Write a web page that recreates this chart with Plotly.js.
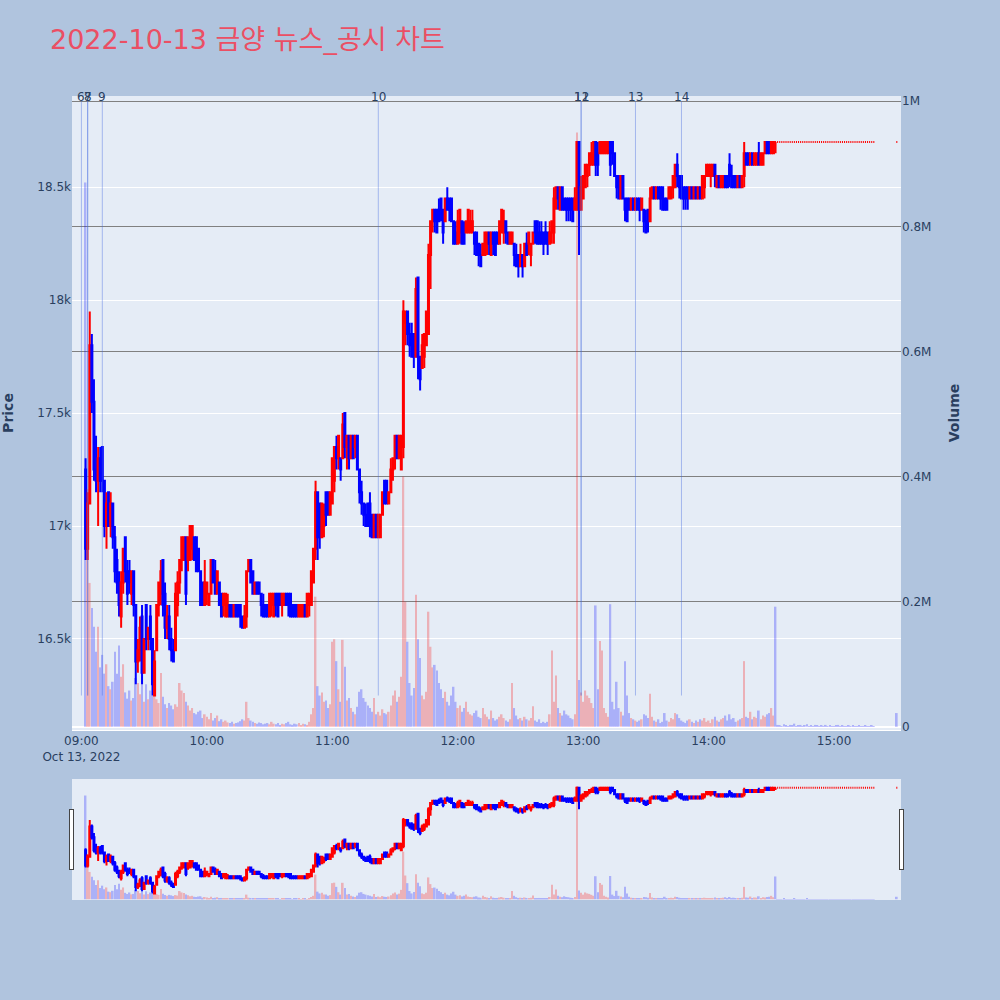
<!DOCTYPE html>
<html><head><meta charset="utf-8">
<script src="https://cdn.plot.ly/plotly-3.0.1.min.js"></script>
<style>body{margin:0;background:#B0C4DE}</style>
</head><body><div id="chart" style="width:1000px;height:1000px"></div>
<script>
const chartTitle = '2022-10-13 금양 뉴스_공시 차트';
const tradeDate = '2022-10-13';
const firstMinute = '09:02';
const closingAuctionTime = '15:30';

const openPrice = [
17250,16900,17100,17800,17550,17250,17200,17300,17350,17200,
17000,17150,17000,17100,16950,16850,16750,16600,16750,16950,
16800,16800,16700,16800,16650,16400,16450,16600,16350,16650,
16500,16600,16500,16250,16450,16650,16700,16850,16700,16550,
16600,16500,16450,16450,16650,16750,16850,16850,16950,16850,
16850,16900,16950,16950,16900,16800,16750,16650,16700,16650,
16700,16850,16800,16700,16750,16700,16650,16600,16600,16650,
16650,16600,16650,16650,16650,16600,16550,16600,16800,16850,
16800,16700,16750,16750,16700,16650,16650,16650,16600,16650,
16600,16700,16700,16700,16650,16650,16700,16700,16700,16650,
16650,16650,16600,16600,16600,16650,16600,16650,16650,16750,
16900,17150,17100,16950,17000,17150,17150,17050,17100,17200,
17350,17300,17300,17300,17500,17350,17400,17300,17400,17350,
17400,17250,17150,17100,17050,17100,17100,17050,16950,17050,
16950,16950,17050,17200,17200,17100,17150,17250,17300,17400,
17300,17250,17350,17900,17950,17850,17850,17850,17750,18100,
17750,17700,17750,17800,17850,18200,18350,18400,18400,18400,
18450,18400,18350,18450,18450,18450,18350,18300,18250,18300,
18350,18300,18300,18300,18300,18300,18300,18300,18250,18200,
18200,18200,18250,18300,18200,18300,18300,18300,18250,18300,
18300,18350,18300,18250,18250,18250,18200,18200,18150,18200,
18150,18250,18250,18200,18250,18350,18350,18300,18300,18300,
18300,18300,18250,18300,18300,18450,18500,18400,18500,18450,
18450,18450,18450,18450,18400,18400,18700,18400,18450,18500,
18550,18600,18600,18600,18700,18650,18650,18650,18650,18650,
18650,18700,18700,18650,18550,18550,18450,18550,18450,18450,
18450,18400,18450,18400,18450,18450,18400,18400,18350,18400,
18350,18450,18500,18450,18500,18500,18500,18450,18450,18450,
18450,18500,18500,18600,18550,18550,18500,18500,18500,18450,
18500,18450,18500,18450,18500,18450,18500,18550,18550,18550,
18550,18600,18500,18550,18500,18500,18550,18550,18600,18550,
18550,18550,18500,18550,18500,18550,18650,18650,18600,18650,
18600,18600,18650,18600,18600,18650,18700,18700,18650,18650,18700,
18700,18700,18700,18700,18700,18700,18700,18700,18700,18700,
18700,18700,18700,18700,18700,18700,18700,18700,18700,18700,
18700,18700,18700,18700,18700,18700,18700,18700,18700,18700,
18700,18700,18700,18700,18700,18700,18700,18700,18700,18700,
18700,18700,18700,18700,18700,18700,18700,
18700];

const highPrice = [
17300,17150,17950,17850,17650,17400,17350,17350,17350,17200,
17150,17150,17150,17100,17000,16900,16800,16800,16900,16950,
16850,16850,16800,16800,16650,16500,16600,16650,16500,16650,
16550,16650,16500,16450,16650,16750,16850,16850,16750,16650,
16650,16550,16500,16750,16800,16850,16950,16950,16950,16950,
17000,17000,16950,16950,16900,16800,16750,16850,16750,16700,
16850,16850,16850,16800,16750,16700,16700,16700,16700,16650,
16650,16650,16650,16650,16650,16600,16650,16800,16850,16850,
16800,16750,16750,16750,16700,16700,16650,16650,16700,16700,
16700,16700,16700,16700,16700,16700,16700,16700,16700,16650,
16650,16650,16650,16650,16650,16650,16700,16700,16800,16900,
17200,17150,17100,17100,17100,17150,17150,17150,17300,17350,
17400,17400,17300,17500,17500,17400,17400,17400,17400,17400,
17400,17250,17200,17100,17100,17100,17150,17050,17050,17050,
17050,17050,17150,17200,17200,17150,17300,17300,17400,17400,
17400,17400,18000,17950,17950,17900,17900,17850,18100,18100,
17750,17850,17850,17950,18250,18350,18400,18400,18400,18450,
18450,18400,18450,18500,18450,18450,18350,18350,18400,18400,
18350,18350,18350,18400,18400,18400,18300,18300,18250,18250,
18250,18300,18300,18300,18300,18300,18300,18300,18350,18400,
18400,18350,18300,18300,18300,18250,18250,18200,18250,18200,
18250,18300,18300,18250,18300,18350,18350,18350,18350,18300,
18350,18300,18350,18350,18500,18500,18500,18500,18500,18450,
18450,18450,18450,18450,18500,18700,18700,18550,18550,18600,
18600,18650,18700,18700,18700,18700,18700,18700,18700,18700,
18700,18700,18700,18650,18550,18550,18550,18550,18450,18450,
18450,18450,18450,18450,18450,18450,18450,18400,18400,18400,
18500,18500,18500,18500,18500,18500,18500,18450,18450,18500,
18500,18550,18600,18650,18550,18550,18500,18500,18500,18500,
18500,18500,18500,18500,18500,18550,18550,18600,18600,18600,
18600,18600,18550,18550,18550,18550,18550,18550,18650,18600,
18550,18550,18550,18550,18550,18700,18650,18650,18650,18650,
18650,18650,18700,18650,18650,18700,18700,18700,18700,18700,18700,
18700,18700,18700,18700,18700,18700,18700,18700,18700,18700,
18700,18700,18700,18700,18700,18700,18700,18700,18700,18700,
18700,18700,18700,18700,18700,18700,18700,18700,18700,18700,
18700,18700,18700,18700,18700,18700,18700,18700,18700,18700,
18700,18700,18700,18700,18700,18700,18700,
18700];

const lowPrice = [
16850,16850,17100,17500,17200,17150,17000,17150,17150,16950,
16900,17000,16950,16900,16750,16700,16600,16550,16700,16750,
16650,16700,16650,16600,16300,16350,16400,16300,16350,16450,
16450,16450,16250,16250,16450,16600,16650,16600,16500,16500,
16450,16400,16400,16450,16600,16700,16800,16850,16650,16800,
16850,16850,16850,16800,16800,16650,16650,16650,16650,16650,
16700,16750,16700,16700,16650,16600,16600,16600,16600,16600,
16600,16600,16600,16600,16550,16550,16550,16550,16800,16750,
16700,16700,16700,16700,16600,16600,16600,16600,16600,16600,
16600,16600,16600,16650,16600,16650,16650,16600,16600,16600,
16600,16600,16600,16600,16600,16600,16600,16600,16650,16750,
16850,16850,16900,16950,16950,17000,17050,17050,17100,17150,
17250,17250,17200,17300,17300,17250,17250,17300,17300,17300,
17250,17100,17050,17000,17000,17000,16950,16950,16950,16950,
16950,16950,17050,17100,17100,17100,17150,17200,17250,17300,
17300,17250,17300,17800,17800,17750,17750,17700,17750,17650,
17600,17700,17700,17800,17850,18050,18300,18300,18300,18350,
18350,18250,18350,18400,18350,18350,18250,18250,18250,18250,
18250,18250,18300,18300,18300,18300,18200,18200,18150,18150,
18200,18200,18200,18200,18200,18200,18200,18250,18250,18300,
18250,18250,18250,18250,18250,18150,18150,18100,18150,18100,
18150,18200,18200,18150,18250,18250,18250,18250,18250,18200,
18250,18200,18250,18250,18250,18400,18400,18400,18400,18400,
18350,18350,18350,18350,18400,18400,18200,18400,18450,18500,
18500,18550,18600,18600,18550,18550,18650,18650,18650,18650,
18650,18550,18600,18550,18450,18450,18450,18450,18350,18350,
18400,18400,18400,18400,18400,18350,18400,18300,18300,18300,
18350,18450,18450,18450,18450,18400,18400,18400,18400,18450,
18450,18450,18500,18500,18450,18450,18400,18400,18400,18450,
18450,18450,18450,18450,18450,18450,18450,18550,18550,18500,
18550,18500,18500,18500,18500,18500,18500,18500,18500,18500,
18500,18500,18500,18500,18500,18500,18600,18600,18600,18600,
18600,18600,18600,18600,18600,18650,18650,18650,18650,18650,18650,
18700,18700,18700,18700,18700,18700,18700,18700,18700,18700,
18700,18700,18700,18700,18700,18700,18700,18700,18700,18700,
18700,18700,18700,18700,18700,18700,18700,18700,18700,18700,
18700,18700,18700,18700,18700,18700,18700,18700,18700,18700,
18700,18700,18700,18700,18700,18700,18700,
18700];

const closePrice = [
16900,17100,17800,17550,17250,17200,17300,17200,17200,17000,
17100,17000,17100,16950,16800,16750,16650,16750,16900,16800,
16700,16750,16800,16650,16400,16450,16550,16350,16500,16500,
16550,16500,16300,16400,16650,16750,16800,16650,16550,16600,
16500,16450,16400,16700,16750,16850,16950,16950,16700,16950,
17000,17000,16850,16800,16800,16650,16650,16750,16750,16700,
16850,16750,16700,16800,16650,16600,16700,16700,16650,16600,
16600,16650,16600,16600,16600,16550,16600,16800,16850,16750,
16700,16750,16700,16700,16650,16600,16600,16600,16700,16700,
16700,16650,16600,16650,16700,16700,16650,16650,16600,16600,
16600,16600,16650,16650,16650,16600,16700,16700,16800,16900,
17150,16950,16950,17100,17050,17050,17050,17150,17300,17350,
17300,17400,17250,17450,17350,17400,17300,17400,17300,17400,
17250,17150,17100,17050,17000,17000,17000,16950,17050,16950,
17050,17050,17150,17100,17100,17150,17250,17300,17400,17300,
17400,17400,17950,17950,17850,17800,17750,17750,18050,17750,
17650,17800,17850,17950,18200,18350,18400,18350,18300,18350,
18400,18300,18450,18400,18400,18350,18250,18250,18350,18400,
18250,18250,18350,18400,18350,18350,18250,18200,18200,18150,
18250,18300,18300,18250,18300,18250,18200,18250,18350,18400,
18350,18300,18250,18300,18300,18200,18150,18150,18200,18150,
18250,18200,18300,18250,18300,18300,18250,18250,18250,18250,
18250,18250,18300,18350,18450,18500,18450,18500,18400,18400,
18400,18400,18400,18350,18450,18700,18400,18500,18550,18600,
18600,18650,18650,18700,18600,18600,18700,18700,18700,18700,
18700,18600,18650,18550,18500,18450,18550,18450,18400,18350,
18400,18450,18400,18450,18400,18400,18450,18350,18300,18350,
18450,18500,18450,18500,18450,18450,18400,18400,18400,18500,
18500,18550,18600,18550,18500,18450,18450,18450,18450,18500,
18450,18500,18450,18500,18450,18550,18550,18600,18600,18600,
18600,18550,18550,18500,18550,18550,18500,18500,18550,18500,
18500,18500,18550,18500,18550,18650,18600,18600,18650,18600,
18650,18650,18600,18650,18650,18700,18650,18650,18700,18700,18700,
18700,18700,18700,18700,18700,18700,18700,18700,18700,18700,
18700,18700,18700,18700,18700,18700,18700,18700,18700,18700,
18700,18700,18700,18700,18700,18700,18700,18700,18700,18700,
18700,18700,18700,18700,18700,18700,18700,18700,18700,18700,
18700,18700,18700,18700,18700,18700,18700,
18700];

const volume = [
870000,380000,230000,190000,160000,120000,160000,95000,115000,85000,
100000,65000,60000,72000,120000,85000,130000,80000,100000,55000,
45000,58000,42000,46000,78000,70000,52000,84000,40000,68000,
44000,58000,50000,56000,44000,38000,86000,48000,36000,30000,
38000,34000,28000,36000,32000,70000,58000,54000,40000,34000,
26000,30000,22000,20000,24000,26000,14000,20000,16000,12000,
22000,10000,14000,18000,9000,12000,8000,10000,7000,6000,
8000,5000,6000,7000,9000,12000,10000,40000,14000,10000,
8000,6000,5000,7000,6000,4000,5000,6000,4000,8000,
5000,4000,6000,3000,5000,4000,6000,8000,4000,3000,
5000,4000,6000,3000,5000,4000,3000,8000,20000,30000,
208000,65000,50000,55000,40000,42000,30000,36000,136000,140000,
105000,60000,40000,139000,96000,42000,46000,30000,24000,20000,
32000,56000,60000,46000,40000,34000,30000,24000,46000,20000,
24000,18000,28000,22000,20000,24000,34000,50000,58000,40000,
48000,80000,400000,200000,136000,70000,50000,62000,211000,140000,
110000,50000,44000,56000,184000,128000,95000,99000,90000,70000,
60000,46000,56000,40000,34000,50000,64000,40000,30000,34000,
24000,30000,40000,24000,20000,18000,22000,26000,16000,14000,
30000,20000,16000,12000,26000,14000,10000,12000,16000,20000,
14000,10000,8000,12000,70000,30000,18000,12000,14000,10000,
16000,12000,10000,14000,33000,10000,8000,12000,6000,8000,
6000,8000,20000,122000,40000,82000,30000,22000,18000,26000,
20000,18000,14000,12000,20000,950000,75000,55000,40000,58000,
50000,46000,38000,30000,194000,60000,137000,122000,30000,22000,
16000,196000,40000,28000,72000,30000,24000,18000,105000,50000,
22000,14000,12000,10000,8000,10000,12000,20000,18000,14000,
53000,16000,10000,8000,12000,6000,8000,22000,10000,8000,
14000,12000,22000,20000,14000,10000,8000,6000,10000,12000,
8000,6000,10000,8000,12000,10000,14000,8000,10000,6000,
12000,16000,10000,8000,12000,14000,18000,10000,20000,12000,
14000,8000,10000,12000,14000,105000,16000,14000,24000,12000,
16000,14000,26000,12000,18000,16000,20000,22000,30000,18000,192000,
3000,2000,1000,4000,2000,1000,3000,2000,5000,1000,
2000,3000,1000,2000,4000,1000,2000,1000,3000,2000,
1000,2000,1000,3000,1000,2000,1000,1000,2000,3000,
1000,2000,1000,1000,2000,1000,3000,1000,1000,2000,
1000,1000,2000,1000,1000,2000,1000,
22000];

const newsLabels = ['6','7','8','9','10','11','12','13','14'];
const newsTimes = ['09:00','09:03','09:03','09:10','11:22','12:59','12:59','13:25','13:47'];

// minute timestamps: continuous session from 09:02, then the closing auction print
function stamp(totalMin){
  const h = Math.floor(totalMin/60), m = totalMin%60;
  return tradeDate + ' ' + String(h).padStart(2,'0') + ':' + String(m).padStart(2,'0');
}
const [fh, fm] = firstMinute.split(':').map(Number);
const times = [];
for (let i = 0; i < openPrice.length - 1; i++) times.push(stamp(fh*60 + fm + i));
times.push(tradeDate + ' ' + closingAuctionTime);

const UP = 'red', DOWN = 'blue';
const volColors = closePrice.map((c, i) => c > openPrice[i] ? UP : DOWN);

const traces = [
  {
    type: 'candlestick', x: times, open: openPrice, high: highPrice, low: lowPrice, close: closePrice,
    increasing: {line: {color: UP}, fillcolor: UP},
    decreasing: {line: {color: DOWN}, fillcolor: DOWN},
    name: 'Price', showlegend: false, xaxis: 'x', yaxis: 'y'
  },
  {
    type: 'bar', x: times, y: volume, marker: {color: volColors, line: {width: 0}},
    opacity: 0.25, name: 'Volume', showlegend: false, xaxis: 'x', yaxis: 'y2'
  }
];

const shapes = newsTimes.map(t => ({
  type: 'line', xref: 'x', yref: 'y2', x0: tradeDate + ' ' + t, x1: tradeDate + ' ' + t,
  y0: 50000, y1: 1000000, line: {color: 'royalblue', width: 1}, opacity: 0.4, layer: 'above'
}));
const annotations = newsTimes.map((t, i) => ({
  x: tradeDate + ' ' + t, y: 1000000, xref: 'x', yref: 'y2', text: newsLabels[i],
  showarrow: false, yanchor: 'bottom', yshift: -5, font: {size: 12, color: '#2a3f5f'}
}));

const FONT = '"DejaVu Sans", "Noto Sans CJK KR", sans-serif';
const layout = {
  width: 1000, height: 1000,
  paper_bgcolor: '#B0C4DE', plot_bgcolor: '#E5ECF6',
  font: {family: FONT, color: '#2a3f5f', size: 12},
  title: {text: chartTitle, x: 0.05, xanchor: 'left', y: 0.96, yanchor: 'middle',
          font: {size: 27, color: '#EB4F64', family: FONT}},
  margin: {l: 72, r: 99, t: 96, b: 100},
  showlegend: false,
  bargap: 0.2,
  xaxis: {
    type: 'date', range: [tradeDate + ' 08:55:30', tradeDate + ' 15:32:00'],
    showgrid: false, zeroline: false, ticks: '', linecolor: 'white',
    rangeslider: {visible: true, bgcolor: '#E5ECF6', thickness: 0.15}
  },
  yaxis: {
    range: [16097, 18904], gridcolor: 'white', zeroline: false, ticks: '',
    title: {text: '<b>Price</b>', font: {size: 14}, standoff: 22}
  },
  yaxis2: {
    overlaying: 'y', side: 'right', range: [-5100, 1008400],
    gridcolor: 'grey', zerolinecolor: 'white', zerolinewidth: 2, ticks: '',
    title: {text: '<b>Volume</b>', font: {size: 14}, standoff: 18}
  },
  shapes: shapes,
  annotations: annotations
};

Plotly.newPlot('chart', traces, layout, {displayModeBar: false});
</script>
</body></html>
